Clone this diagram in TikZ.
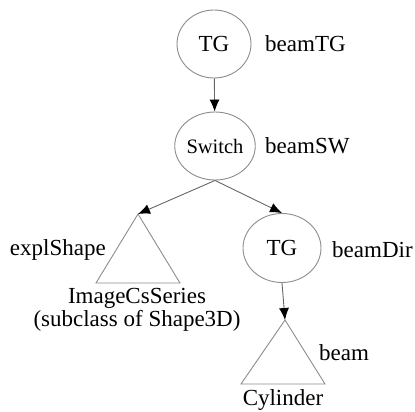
\documentclass[tikz,border=0pt]{standalone}
\usepackage{fontspec}
\setmainfont{Liberation Serif}
\usetikzlibrary{shapes.geometric,arrows.meta}
\begin{document}
\begin{tikzpicture}[x=1pt,y=-1pt,
  grp/.style={ellipse,draw=black!45,line width=0.9pt,inner sep=0pt,font=\fontsize{23}{26}\selectfont},
  lbl/.style={inner sep=0pt,font=\fontsize{23}{26}\selectfont},
  tri/.style={draw=black!45,line width=0.9pt,line join=miter},
  edge/.style={draw=black!60,line width=0.9pt,-{Latex[length=12pt,width=10pt,color=black]}}]
\useasboundingbox (0,0) rectangle (415,412);
\node[grp,minimum width=74pt,minimum height=68pt] (tg) at (214,44) {TG};
\node[lbl,anchor=west] (ltg) at (265,44) {beamTG};
\node[grp,minimum width=76pt,minimum height=68pt,font=\fontsize{20.5}{24}\selectfont] (sw) at (215,146) {Switch};
\node[lbl,anchor=west] (lsw) at (265,146) {beamSW};
% left triangle
\coordinate (t1) at (138,214);
\draw[tri] (t1) -- (96,283) -- (180,283) -- cycle;
\node[lbl,anchor=east] (lexp) at (106,250) {explShape};
\node[lbl,align=center,anchor=north] (limg) at (137,288) {ImageCsSeries\\[-3pt](subclass of Shape3D)};
% right TG
\node[grp,minimum width=78pt,minimum height=69pt] (tg2) at (282,248) {TG};
\node[lbl,anchor=west] (ldir) at (332,250) {beamDir};
% right triangle
\coordinate (t2) at (285,320);
\draw[tri] (t2) -- (241,384) -- (325,384) -- cycle;
\node[lbl,anchor=west] (lbeam) at (319,353) {beam};
\node[lbl] (lcyl) at (283,400) {Cylinder};
% edges
\draw[edge] (tg) -- (sw);
\draw[edge] (sw.south) -- (t1);
\draw[edge] (sw.south) -- (tg2.north);
\draw[edge] (tg2.south) -- (t2);
\end{tikzpicture}
\end{document}
